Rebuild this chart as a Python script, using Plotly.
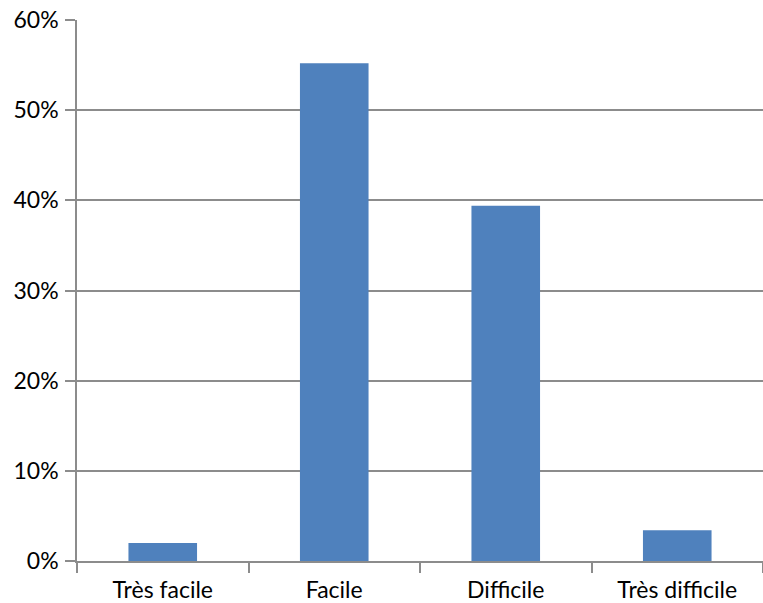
import plotly.graph_objects as go

categories = ["Très facile", "Facile", "Difficile", "Très difficile"]
values = [0.020, 0.552, 0.394, 0.034]
y_ticks = [0, 0.1, 0.2, 0.3, 0.4, 0.5, 0.6]

grid = "#8c8c8c"
font = dict(family="Lato", size=23, color="#000000")

fig = go.Figure(go.Bar(x=categories, y=values, marker=dict(color="#4F81BD", line=dict(width=0))))

fig.update_layout(
    width=763, height=603,
    margin=dict(l=77, r=0, t=20, b=42, autoexpand=False),
    paper_bgcolor="white", plot_bgcolor="white",
    bargap=0.6,
    showlegend=False,
    font=font,
)
fig.update_xaxes(
    showline=True, linecolor=grid, linewidth=1.5,
    ticks="outside", tickson="boundaries", ticklen=10, tickcolor=grid, tickwidth=1.5,
    showgrid=False, tickfont=font, automargin=False, ticklabelstandoff=8,
)
fig.update_yaxes(
    range=[0, 0.6], tickvals=y_ticks, tickformat=".0%",
    showline=True, linecolor=grid, linewidth=1.5,
    ticks="outside", ticklen=10, tickcolor=grid, tickwidth=1.5,
    showgrid=True, gridcolor=grid, gridwidth=1.5,
    zeroline=False, tickfont=font, ticklabelstandoff=2, automargin=False,
)

fig.write_html(
    "out.html",
    config={"displayModeBar": False},
    post_script="document.body.style.margin='0';",
)
